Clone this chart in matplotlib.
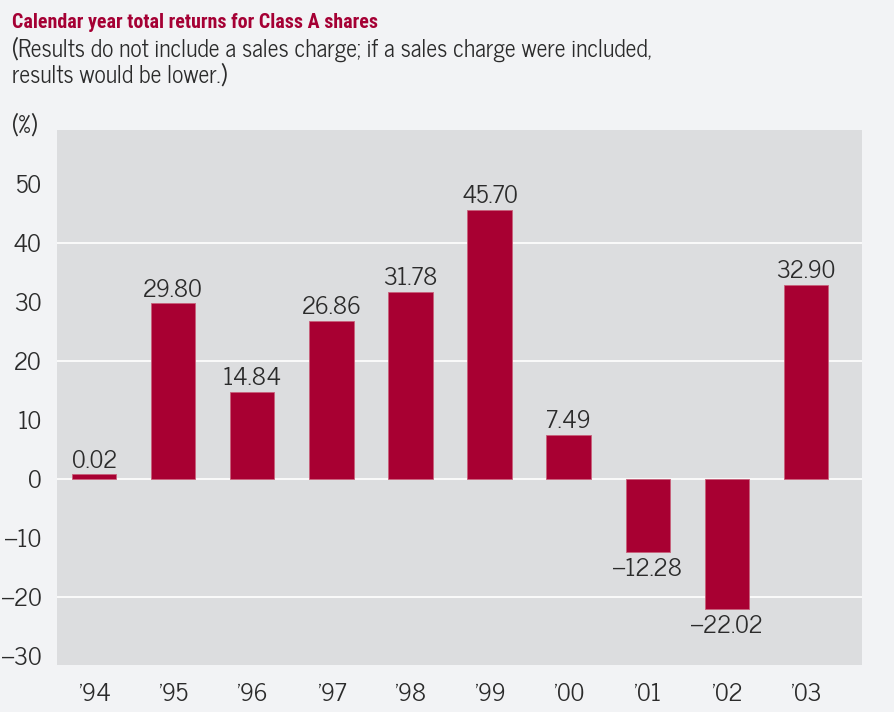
import numpy as np
from matplotlib import pyplot as plt

years = ["'94", "'95", "'96", "'97", "'98", "'99", "'00", "'01", "'02", "'03"]
returns = [0.02, 29.80, 14.84, 26.86, 31.78, 45.70, 7.49, -12.28, -22.02, 32.90]
labels = ['0.02', '29.80', '14.84', '26.86', '31.78', '45.70', '7.49', '\u201312.28', '\u201322.02', '32.90']
yticks = [50, 40, 30, 20, 10, 0, -10, -20, -30]
ytick_labels = ['50', '40', '30', '20', '10', '0', '\u201310', '\u201320', '\u201330']

bg = '#f2f3f5'
plot_bg = '#dcdddf'
red = '#a80032'
txt = '#2b2b2b'
body = ['News Cycle', 'Roboto Condensed', 'DejaVu Sans']
head = ['Roboto Condensed', 'PT Sans Narrow', 'Liberation Sans Narrow', 'DejaVu Sans']
plt.rcParams['font.family'] = body

fig = plt.figure(figsize=(8.95, 7.12), dpi=100, facecolor=bg)
ax = fig.add_axes([57 / 895, 47 / 712, 805 / 895, 535 / 712])
ax.set_facecolor(plot_bg)

x = np.arange(len(years))
vals = np.array(returns)
# tiny values still get a visible sliver, as in the printed chart
shown = np.where(np.abs(vals) < 0.8, 0.8, vals)
ax.bar(x, shown, width=0.56, color=red, edgecolor='#c8607a', linewidth=0.6, zorder=3)

for xi, v, s in zip(x, vals, labels):
    if v >= 0:
        ax.text(xi, max(v, 0.8) + 0.3, s, ha='center', va='bottom', fontsize=17.5, color=txt)
    else:
        ax.text(xi, v - 1.0, s, ha='center', va='top', fontsize=17.5, color=txt)

for g in [40, 20, 0, -20]:
    ax.axhline(g, color='white', linewidth=1.2, zorder=2)

ax.set_xlim(-0.47, 9.71)
ax.set_ylim(-31.5, 59.2)
ax.set_xticks(x)
ax.set_xticklabels(years, fontsize=17.5, color=txt)
ax.set_yticks(yticks)
ax.set_yticklabels(ytick_labels, fontsize=17.5, color=txt)
ax.tick_params(length=0)
ax.tick_params(axis='x', pad=13)
ax.tick_params(axis='y', pad=11)
for sp in ax.spines.values():
    sp.set_visible(False)

fig.text(12 / 895, 1 - 22 / 712, 'Calendar year total returns for Class A shares',
         fontsize=14.4, fontweight='bold', color='#a50034', va='center', ha='left', family=head)
fig.text(12 / 895, 1 - 49 / 712,
         '(Results do not include a sales charge; if a sales charge were included,',
         fontsize=17, color=txt, va='center', ha='left')
fig.text(12 / 895, 1 - 76 / 712, 'results would be lower.)',
         fontsize=17, color=txt, va='center', ha='left')
fig.text(12 / 895, 1 - 126 / 712, '(%)', fontsize=17, color=txt, va='center', ha='left')

plt.savefig('out.png', dpi=100, facecolor=bg)
plt.close()
